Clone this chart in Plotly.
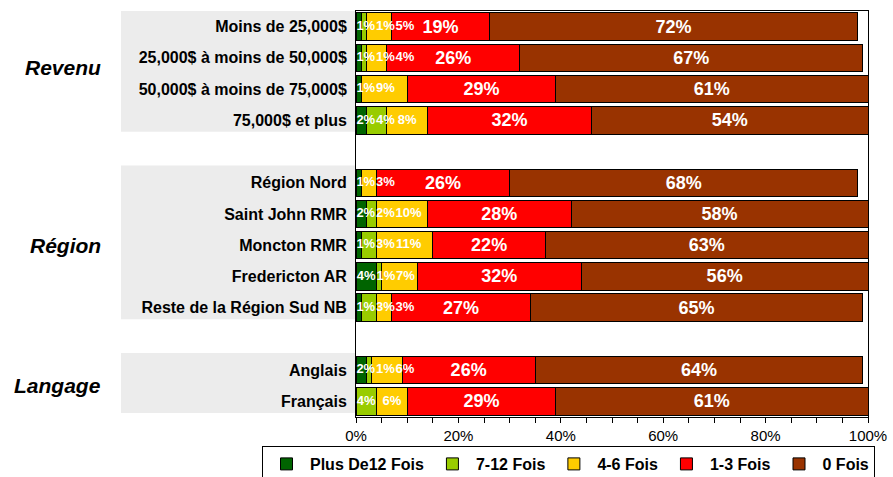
import plotly.graph_objects as go

# ---- data ----
groups = ["Revenu", "Région", "Langage"]
group_rows = [
    ["Moins de 25,000$", "25,000$ à moins de 50,000$", "50,000$ à moins de 75,000$", "75,000$ et plus"],
    ["Région Nord", "Saint John RMR", "Moncton RMR", "Fredericton AR", "Reste de la Région Sud NB"],
    ["Anglais", "Français"],
]
series_names = ["Plus De12 Fois", "7-12 Fois", "4-6 Fois", "1-3 Fois", "0 Fois"]
plus12 = [1, 1, 1, 2, 1, 2, 1, 4, 1, 2, 0]
f7_12 = [1, 1, 0, 4, 0, 2, 3, 1, 3, 1, 4]
f4_6 = [5, 4, 9, 8, 3, 10, 11, 7, 3, 6, 6]
f1_3 = [19, 26, 29, 32, 26, 28, 22, 32, 27, 26, 29]
f0 = [72, 67, 61, 54, 68, 58, 63, 56, 65, 64, 61]
x_tick_vals = [0, 20, 40, 60, 80, 100]
x_tick_text = ["0%", "20%", "40%", "60%", "80%", "100%"]

colors = ["#006400", "#99CC00", "#FFCC00", "#FF0000", "#993300"]
series = [plus12, f7_12, f4_6, f1_3, f0]

# y positions with a blank slot between groups
categories, ypos, group_span = [], [], []
pos = 0
for g, rows in zip(groups, group_rows):
    start = pos
    for r in rows:
        categories.append(r)
        ypos.append(pos)
        pos += 1
    group_span.append((start, pos - 1))
    pos += 1
last_slot = ypos[-1]

FONT = "Liberation Sans, Arial, sans-serif"
SMALL_SIZE = 13
PX_PER_UNIT = 512 / 100.0  # plot width in px per percent


def label_w(v):
    # approximate label width (bold Liberation Sans) in axis units
    return (SMALL_SIZE * (0.556 * len(str(v)) + 0.889) + 0.8) / PX_PER_UNIT


fig = go.Figure()
cum = [0] * len(ypos)
prev_right = [0.0] * len(ypos)
for name, vals, col in zip(series_names, series, colors):
    big = name in ("1-3 Fois", "0 Fois")
    fig.add_trace(go.Bar(
        name=name, y=ypos, x=vals, orientation="h", width=0.88,
        marker=dict(color=col, line=dict(color="#000000", width=1)),
        text=[f"{v}%" if (v > 0 and big) else "" for v in vals],
        textposition="inside", insidetextanchor="middle", textangle=0,
        textfont=dict(family=FONT, size=18, color="white", weight="bold"),
        hoverinfo="x+name",
    ))
    if not big:
        centers = []
        for i, (c, v) in enumerate(zip(cum, vals)):
            if v > 0:
                w = label_w(v)
                left = max(c + v / 2 - w / 2, prev_right[i])
                prev_right[i] = left + w
                centers.append(left + w / 2)
            else:
                centers.append(c)
        fig.add_trace(go.Scatter(
            x=centers, y=ypos, mode="text",
            text=[f"{v}%" if v > 0 else "" for v in vals],
            textposition="middle center", cliponaxis=False, showlegend=False,
            textfont=dict(family=FONT, size=SMALL_SIZE, color="white", weight="bold"),
            hoverinfo="skip",
        ))
    cum = [c + v for c, v in zip(cum, vals)]

shapes = []
for (a, b) in group_span:
    shapes.append(dict(type="rect", xref="paper", yref="y",
                       x0=(121 - 356) / 512, x1=-0.002,
                       y0=a - 0.55, y1=b + 0.37,
                       fillcolor="#ECECEC", line=dict(width=0), layer="below"))

annotations = []
for g, (a, b), dy in zip(groups, group_span, [-0.2, 0, 0]):
    annotations.append(dict(text=g, xref="paper", yref="y", x=(103 - 356) / 512,
                            y=(a + b) / 2 + dy, xanchor="right", yanchor="middle",
                            showarrow=False,
                            font=dict(family=FONT, size=21, color="black",
                                      weight="bold", style="italic")))

fig.update_layout(
    width=893, height=477,
    margin=dict(l=356, r=25, t=11, b=60, autoexpand=False),
    barmode="stack",
    plot_bgcolor="white", paper_bgcolor="white",
    shapes=shapes, annotations=annotations,
    showlegend=True,
    legend=dict(orientation="h", x=(262 - 356) / 512, y=(417 - 446) / 406,
                xanchor="left", yanchor="top", traceorder="normal",
                itemwidth=37,
                bordercolor="black", borderwidth=1, bgcolor="white",
                font=dict(family=FONT, size=16, color="black", weight="bold")),
    xaxis=dict(range=[0, 100], tickvals=x_tick_vals, ticktext=x_tick_text,
               showgrid=False, zeroline=False, showline=True, linecolor="black",
               linewidth=1, mirror=True, ticks="outside", ticklen=5, tickcolor="black",
               minor=dict(dtick=5, ticks="outside", ticklen=5, tickcolor="black"),
               tickfont=dict(family=FONT, size=15, color="black")),
    yaxis=dict(range=[last_slot + 0.5, -0.5], tickvals=ypos, ticktext=categories,
               showgrid=False, zeroline=False, showline=True, linecolor="black",
               linewidth=1, mirror=True, ticks="", ticklabelstandoff=5,
               tickfont=dict(family=FONT, size=16, color="black", weight="bold")),
)

fig.write_html("out.html", config={"displayModeBar": False},
               post_script="document.body.style.margin='0';document.body.style.overflow='hidden';")
